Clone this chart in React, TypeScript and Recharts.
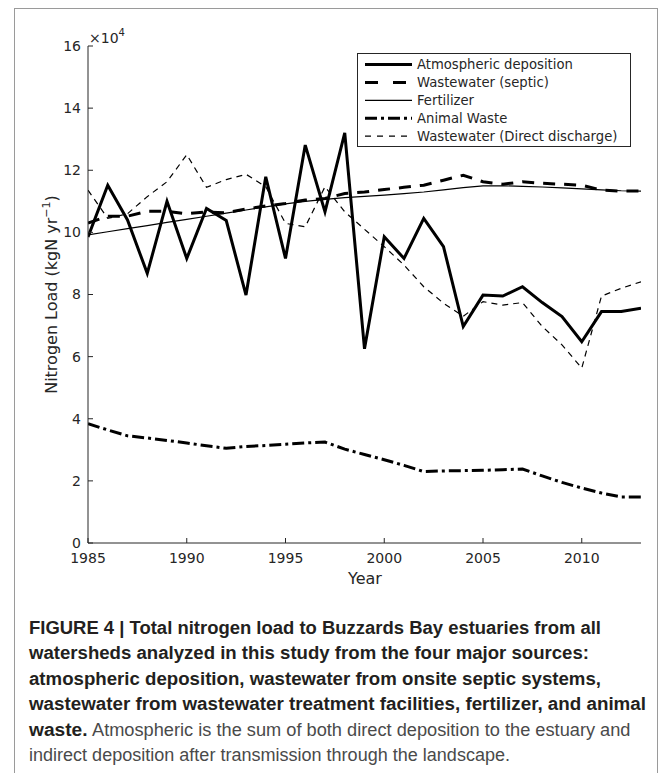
import { LineChart, Line, XAxis, YAxis, Legend } from "recharts";

const years = [1985, 1986, 1987, 1988, 1989, 1990, 1991, 1992, 1993, 1994, 1995, 1996, 1997, 1998, 1999, 2000, 2001, 2002, 2003, 2004, 2005, 2006, 2007, 2008, 2009, 2010, 2011, 2012, 2013];
const yearTicks = [1985, 1990, 1995, 2000, 2005, 2010];
const loadTicks = [0, 2, 4, 6, 8, 10, 12, 14, 16];

// values in 10^4 kgN/yr
const atmospheric = [9.85, 11.52, 10.4, 8.68, 11.0, 9.16, 10.77, 10.38, 7.98, 11.79, 9.16, 12.81, 10.66, 13.2, 6.25, 9.86, 9.16, 10.45, 9.54, 6.97, 7.98, 7.95, 8.25, 7.74, 7.29, 6.48, 7.45, 7.45, 7.56];
const septic = [10.3, 10.52, 10.52, 10.68, 10.68, 10.6, 10.66, 10.63, 10.75, 10.85, 10.93, 11.04, 11.09, 11.25, 11.3, 11.38, 11.45, 11.52, 11.68, 11.84, 11.63, 11.55, 11.63, 11.58, 11.55, 11.52, 11.36, 11.33, 11.33];
const fertilizer = [9.92, 10.02, 10.12, 10.22, 10.32, 10.42, 10.52, 10.62, 10.72, 10.82, 10.92, 11.0, 11.06, 11.12, 11.16, 11.2, 11.25, 11.3, 11.37, 11.44, 11.5, 11.5, 11.48, 11.46, 11.43, 11.4, 11.37, 11.34, 11.33];
const animalWaste = [3.84, 3.64, 3.45, 3.38, 3.3, 3.22, 3.13, 3.05, 3.11, 3.14, 3.18, 3.22, 3.25, 3.02, 2.85, 2.68, 2.5, 2.3, 2.32, 2.33, 2.34, 2.36, 2.38, 2.16, 1.95, 1.77, 1.61, 1.48, 1.48];
const directDischarge = [11.36, 10.45, 10.6, 11.15, 11.63, 12.5, 11.45, 11.7, 11.87, 11.47, 10.29, 10.18, 11.47, 10.66, 10.1, 9.54, 8.95, 8.25, 7.72, 7.3, 7.77, 7.66, 7.74, 6.97, 6.38, 5.63, 7.95, 8.2, 8.41];

const data = years.map((year, i) => ({
  year,
  atmospheric: atmospheric[i],
  septic: septic[i],
  fertilizer: fertilizer[i],
  animal: animalWaste[i],
  direct: directDischarge[i],
}));

const series = [
  { key: "atmospheric", name: "Atmospheric deposition", width: 3, dash: undefined, legendDash: undefined },
  { key: "septic", name: "Wastewater (septic)", width: 3, dash: "12 9", legendDash: "13 15" },
  { key: "fertilizer", name: "Fertilizer", width: 1.2, dash: undefined, legendDash: undefined },
  { key: "animal", name: "Animal Waste", width: 3, dash: "12 4 3 4", legendDash: "12 4 3 4" },
  { key: "direct", name: "Wastewater (Direct discharge)", width: 1.2, dash: "6 5", legendDash: "6 6" },
];

const axisColor = "#262626";
const tickFont = { fontSize: 14, fill: axisColor, fontFamily: "DejaVu Sans" };

function LegendBox() {
  return (
    <svg width={275} height={95} style={{ display: "block" }}>
      <rect x={0.5} y={0.5} width={273} height={93} fill="#fff" stroke={axisColor} strokeWidth={1} />
      {series.map((s, i) => {
        const cy = 11.5 + i * 17.9;
        return (
          <g key={s.key}>
            <line x1={8} x2={55} y1={cy} y2={cy} stroke="#000" strokeWidth={s.width} strokeDasharray={s.legendDash} />
            <text x={60} y={cy} dominantBaseline="central" fontSize={13.2} fontFamily="DejaVu Sans" fill={axisColor}>{s.name}</text>
          </g>
        );
      })}
    </svg>
  );
}

const captionBold = "#231f20";
const captionReg = "#4a4a4a";
const capFont = "'Liberation Sans Narrow', 'Liberation Sans', Arial, sans-serif";

export default function App() {
  return (
    <div style={{ position: "absolute", left: 0, top: 0, width: 669, height: 773, background: "#fff", overflow: "hidden" }}>
      <div style={{ position: "absolute", left: 14, top: 8, width: 644, height: 800, border: "1px solid #9a9a9a", boxSizing: "border-box" }} />
      <div style={{ position: "absolute", left: 0, top: 0 }}>
        <LineChart width={669} height={600} data={data} margin={{ top: 46, right: 28, left: 44, bottom: 27 }}>
          <XAxis dataKey="year" type="number" domain={[1985, 2013]} ticks={yearTicks} allowDataOverflow
            height={30} tickSize={-5} tickMargin={15} stroke={axisColor} tick={tickFont} />
          <XAxis xAxisId="top" orientation="top" dataKey="year" type="number" domain={[1985, 2013]} ticks={yearTicks}
            height={0} tickSize={-5} tick={false} stroke={axisColor} />
          <YAxis type="number" domain={[0, 16]} ticks={loadTicks} width={44} tickSize={-5} tickMargin={12}
            stroke={axisColor} tick={tickFont} />
          <YAxis yAxisId="right" orientation="right" type="number" domain={[0, 16]} ticks={loadTicks} width={0}
            tickSize={-5} tick={false} stroke={axisColor} />
          <Legend layout="horizontal" verticalAlign="middle" align="center"
            wrapperStyle={{ left: 357, top: 53, width: 275, height: 95 }} content={() => <LegendBox />} />
          {series.map((s) => (
            <Line key={s.key} dataKey={s.key} name={s.name} type="linear" stroke="#000" strokeWidth={s.width}
              strokeDasharray={s.dash} dot={false} activeDot={false} isAnimationActive={false} />
          ))}
        </LineChart>
      </div>
      <svg width={669} height={773} style={{ position: "absolute", left: 0, top: 0, pointerEvents: "none" }}>
        <text x={89} y={43} fontSize={14} fontFamily="DejaVu Sans" fill={axisColor}>
          ×10<tspan dy={-7} fontSize={10}>4</tspan>
        </text>
        <text transform="translate(57,294.5) rotate(-90)" textAnchor="middle" fontSize={16} fontFamily="DejaVu Sans" fill={axisColor}>
          Nitrogen Load (kgN yr<tspan dy={-7} fontSize={11}>−1</tspan><tspan dy={7}>)</tspan>
        </text>
        <text x={365} y={584} textAnchor="middle" fontSize={16} fontFamily="DejaVu Sans" fill={axisColor}>Year</text>

        <g fontFamily={capFont} fontSize={17.5}>
          <text x={29} y={634} fontWeight="bold" fill={captionBold} textLength={572} lengthAdjust="spacingAndGlyphs">FIGURE 4 | Total nitrogen load to Buzzards Bay estuaries from all</text>
          <text x={29} y={659.4} fontWeight="bold" fill={captionBold} textLength={560} lengthAdjust="spacingAndGlyphs">watersheds analyzed in this study from the four major sources:</text>
          <text x={29} y={684.8} fontWeight="bold" fill={captionBold} textLength={572} lengthAdjust="spacingAndGlyphs">atmospheric deposition, wastewater from onsite septic systems,</text>
          <text x={29} y={710.2} fontWeight="bold" fill={captionBold} textLength={617} lengthAdjust="spacingAndGlyphs">wastewater from wastewater treatment facilities, fertilizer, and animal</text>
          <text x={29} y={735.6} fontWeight="bold" fill={captionBold} textLength={58.5} lengthAdjust="spacingAndGlyphs">waste.</text>
          <text x={92} y={735.6} fill={captionReg} textLength={538.5} lengthAdjust="spacingAndGlyphs">Atmospheric is the sum of both direct deposition to the estuary and</text>
          <text x={29} y={761} fill={captionReg} textLength={481} lengthAdjust="spacingAndGlyphs">indirect deposition after transmission through the landscape.</text>
        </g>
      </svg>
    </div>
  );
}
